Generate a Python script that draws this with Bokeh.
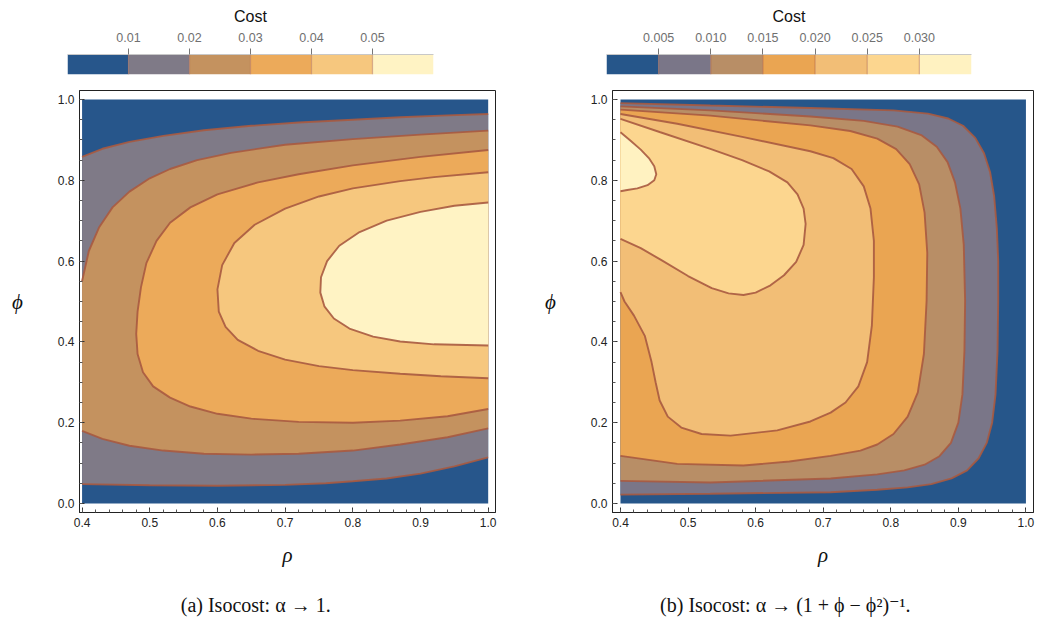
import numpy as np
from bokeh.plotting import figure
from bokeh.layouts import row, column
from bokeh.models import FixedTicker, PrintfTickFormatter
from bokeh.core.properties import value
from bokeh.embed import file_html
from bokeh.resources import INLINE

# ---------------- panel (a): isocost, alpha -> 1 ----------------
A_LEVELS = [0.01, 0.02, 0.03, 0.04, 0.05]
A_COLORS = ["#27568B", "#7F7A87", "#C4925F", "#ECAA5A", "#F6C77E", "#FFF3C4"]

# level 0.01 (two branches, open to the left edge)
A1_TOP_RHO = [1.0, 0.93, 0.87, 0.80, 0.72, 0.65, 0.58, 0.52, 0.47, 0.43, 0.40]
A1_TOP_PHI = [0.964, 0.960, 0.956, 0.950, 0.943, 0.935, 0.924, 0.910, 0.895, 0.878, 0.858]
A1_BOT_RHO = [0.40, 0.50, 0.60, 0.70, 0.76, 0.80, 0.85, 0.90, 0.95, 1.0]
A1_BOT_PHI = [0.048, 0.045, 0.044, 0.046, 0.050, 0.055, 0.062, 0.074, 0.092, 0.114]
# level 0.02
A2_TOP_RHO = [1.0, 0.90, 0.80, 0.70, 0.62, 0.57, 0.53, 0.50, 0.47, 0.445, 0.425, 0.41, 0.40]
A2_TOP_PHI = [0.923, 0.913, 0.902, 0.888, 0.868, 0.850, 0.828, 0.805, 0.772, 0.733, 0.683, 0.625, 0.550]
A2_BOT_RHO = [0.40, 0.43, 0.47, 0.52, 0.58, 0.65, 0.72, 0.80, 0.87, 0.94, 1.0]
A2_BOT_PHI = [0.180, 0.160, 0.143, 0.131, 0.123, 0.121, 0.123, 0.131, 0.146, 0.164, 0.186]
# level 0.03
A3_RHO = [1.0, 0.90, 0.80, 0.72, 0.66, 0.60, 0.56, 0.53, 0.51, 0.495, 0.487, 0.482, 0.480,
          0.482, 0.490, 0.505, 0.53, 0.56, 0.60, 0.65, 0.72, 0.80, 0.87, 0.94, 1.0]
A3_PHI = [0.875, 0.858, 0.837, 0.815, 0.795, 0.765, 0.733, 0.695, 0.650, 0.595, 0.535, 0.475, 0.420,
          0.370, 0.325, 0.290, 0.262, 0.240, 0.222, 0.210, 0.202, 0.200, 0.205, 0.216, 0.234]
# level 0.04
A4_RHO = [1.0, 0.92, 0.87, 0.80, 0.75, 0.70, 0.655, 0.625, 0.607, 0.600, 0.602, 0.612, 0.63,
          0.66, 0.70, 0.75, 0.80, 0.87, 0.93, 1.0]
A4_PHI = [0.820, 0.808, 0.798, 0.780, 0.760, 0.730, 0.690, 0.645, 0.590, 0.530, 0.475, 0.437, 0.405,
          0.378, 0.356, 0.340, 0.330, 0.321, 0.315, 0.310]
# level 0.05
A5_RHO = [1.0, 0.95, 0.90, 0.85, 0.81, 0.78, 0.762, 0.753, 0.752, 0.758, 0.772, 0.795, 0.83,
          0.87, 0.92, 1.0]
A5_PHI = [0.745, 0.737, 0.722, 0.700, 0.672, 0.638, 0.600, 0.560, 0.522, 0.488, 0.458, 0.433, 0.413,
          0.401, 0.394, 0.391]

# ---------------- panel (b): isocost, alpha -> (1+phi-phi^2)^-1 ----------------
B_LEVELS = [0.005, 0.010, 0.015, 0.020, 0.025, 0.030]
B_COLORS = ["#26568A", "#7A7688", "#B88E66", "#EAA552", "#F2BE76", "#FCD68F", "#FFF2C1"]

B1_RHO = [0.40, 0.533, 0.681, 0.804, 0.855, 0.885, 0.907, 0.925, 0.938, 0.947, 0.953, 0.957,
          0.959, 0.959, 0.958, 0.955, 0.950, 0.942, 0.930, 0.913, 0.890, 0.860, 0.825, 0.780,
          0.711, 0.533, 0.40]
B1_PHI = [0.991, 0.985, 0.979, 0.973, 0.965, 0.953, 0.935, 0.905, 0.867, 0.820, 0.760, 0.680,
          0.600, 0.502, 0.378, 0.270, 0.200, 0.150, 0.112, 0.082, 0.062, 0.048, 0.040, 0.034,
          0.028, 0.024, 0.022]
B2_RHO = [0.40, 0.533, 0.681, 0.760, 0.810, 0.845, 0.868, 0.884, 0.895, 0.903, 0.908, 0.910,
          0.909, 0.906, 0.900, 0.889, 0.872, 0.850, 0.820, 0.780, 0.711, 0.533, 0.40]
B2_PHI = [0.983, 0.973, 0.958, 0.947, 0.933, 0.912, 0.883, 0.845, 0.795, 0.730, 0.640, 0.502,
          0.378, 0.270, 0.200, 0.150, 0.117, 0.096, 0.082, 0.072, 0.062, 0.052, 0.056]
B3_RHO = [0.40, 0.533, 0.681, 0.740, 0.780, 0.808, 0.828, 0.842, 0.850, 0.854, 0.853, 0.849,
          0.840, 0.825, 0.804, 0.780, 0.755, 0.711, 0.650, 0.582, 0.484, 0.40]
B3_PHI = [0.975, 0.960, 0.936, 0.922, 0.903, 0.877, 0.840, 0.790, 0.720, 0.620, 0.502, 0.370,
          0.275, 0.215, 0.172, 0.146, 0.131, 0.118, 0.104, 0.094, 0.098, 0.118]
B4_RHO = [0.40, 0.484, 0.582, 0.681, 0.715, 0.742, 0.760, 0.770, 0.775, 0.775, 0.772, 0.765,
          0.752, 0.733, 0.711, 0.681, 0.632, 0.563, 0.520, 0.490, 0.470, 0.458, 0.452, 0.446,
          0.436, 0.420, 0.406, 0.40]
B4_PHI = [0.964, 0.940, 0.907, 0.872, 0.855, 0.828, 0.785, 0.730, 0.650, 0.560, 0.440, 0.350,
          0.290, 0.250, 0.225, 0.203, 0.181, 0.168, 0.172, 0.188, 0.215, 0.255, 0.300, 0.350,
          0.415, 0.465, 0.500, 0.523]
B5_RHO = [0.40, 0.459, 0.533, 0.580, 0.620, 0.647, 0.662, 0.671, 0.674, 0.671, 0.660, 0.642,
          0.622, 0.600, 0.582, 0.560, 0.535, 0.500, 0.460, 0.430, 0.40]
B5_PHI = [0.952, 0.919, 0.878, 0.850, 0.822, 0.795, 0.765, 0.730, 0.692, 0.640, 0.598, 0.565,
          0.540, 0.522, 0.516, 0.520, 0.533, 0.563, 0.603, 0.632, 0.655]
B6_RHO = [0.40, 0.415, 0.430, 0.442, 0.450, 0.453, 0.450, 0.440, 0.425, 0.410, 0.40]
B6_PHI = [0.919, 0.898, 0.876, 0.855, 0.835, 0.815, 0.800, 0.788, 0.780, 0.776, 0.773]

RHO_MIN, RHO_MAX, PHI_MIN, PHI_MAX = 0.4, 1.0, 0.0, 1.0
X_TICKS = [0.4, 0.5, 0.6, 0.7, 0.8, 0.9, 1.0]
Y_TICKS = [0.0, 0.2, 0.4, 0.6, 0.8, 1.0]
CAPTIONS = ["(a) Isocost: α → 1.", "(b) Isocost: α → (1 + ϕ − ϕ²)⁻¹."]

LINE_COLOR = "#A85A40"
COL_W = 522
TICK_FONT = "Liberation Sans, Arial, sans-serif"
SERIF = "Liberation Serif, DejaVu Serif, serif"


def base_fig(**kw):
    p = figure(toolbar_location=None, output_backend="svg", **kw)
    p.frame_align = False
    p.grid.visible = False
    return p


def make_cbar(levels, colors, ml, mr, fmt):
    step = levels[1] - levels[0]
    edges = [levels[0] - step] + list(levels) + [levels[-1] + step]
    p = base_fig(width=COL_W, height=86, x_range=(edges[0], edges[-1]), y_range=(0, 1),
                 x_axis_location="above",
                 min_border_left=ml, min_border_right=mr, min_border_top=53, min_border_bottom=12,
                 title="Cost")
    p.quad(left=edges[:-1], right=edges[1:], bottom=0, top=1, fill_color=colors, line_color=None)
    p.segment(x0=levels, y0=[0] * len(levels), x1=levels, y1=[1] * len(levels),
              line_color=LINE_COLOR, line_alpha=0.45, line_width=1.2)
    p.yaxis.visible = False
    p.outline_line_color = None
    ax = p.xaxis[0]
    ax.ticker = FixedTicker(ticks=list(levels), minor_ticks=[])
    ax.formatter = PrintfTickFormatter(format=fmt)
    ax.major_tick_out = 6
    ax.major_tick_in = 0
    ax.major_tick_line_color = "#777777"
    ax.axis_line_color = "#C8C8C8"
    ax.major_label_standoff = 7
    ax.major_label_text_color = "#707070"
    ax.major_label_text_font = TICK_FONT
    ax.major_label_text_font_size = "12.5px"
    p.title.align = "center"
    p.title.text_font = TICK_FONT
    p.title.text_font_size = "16px"
    p.title.text_font_style = "normal"
    p.title.text_color = "#111111"
    p.title.standoff = 10
    return p


def make_main(xr, ml, mr, colors, polys, lines, ylab_standoff):
    p = base_fig(width=COL_W, height=494, x_range=xr, y_range=(-0.0223, 1.0223),
                 min_border_left=ml, min_border_right=mr, min_border_top=4, min_border_bottom=68)
    p.quad(left=[RHO_MIN], right=[RHO_MAX], bottom=[PHI_MIN], top=[PHI_MAX],
           fill_color=colors[0], line_color=None)
    p.patches(xs=[q[0] for q in polys], ys=[q[1] for q in polys],
              fill_color=colors[1:], line_color=None)
    p.multi_line(xs=[l[0] for l in lines], ys=[l[1] for l in lines],
                 line_color=LINE_COLOR, line_width=1.9, line_alpha=0.9)
    p.outline_line_color = "#222222"
    for ax in (p.xaxis[0], p.yaxis[0]):
        ax.major_tick_in = 5
        ax.major_tick_out = 0
        ax.minor_tick_in = 3
        ax.minor_tick_out = 0
        ax.major_tick_line_color = "#333333"
        ax.minor_tick_line_color = "#555555"
        ax.axis_line_color = "#222222"
        ax.formatter = PrintfTickFormatter(format="%.1f")
        ax.major_label_text_font = TICK_FONT
        ax.major_label_text_font_size = "12px"
        ax.major_label_text_color = "#222222"
        ax.major_label_standoff = 5
        ax.axis_label_text_font = SERIF
        ax.axis_label_text_font_style = "italic"
        ax.axis_label_text_font_size = "21px"
        ax.axis_label_text_color = "#111111"
    p.xaxis[0].ticker = FixedTicker(ticks=X_TICKS, minor_ticks=list(np.round(np.arange(0.4, 1.0001, 0.02), 3)))
    p.yaxis[0].ticker = FixedTicker(ticks=Y_TICKS, minor_ticks=list(np.round(np.arange(0.0, 1.0001, 0.05), 3)))
    p.xaxis[0].axis_label = "ρ"
    p.xaxis[0].axis_label_standoff = 13
    p.yaxis[0].axis_label = "ϕ"
    p.yaxis[0].axis_label_orientation = "horizontal"
    p.yaxis[0].axis_label_standoff = ylab_standoff
    return p


def make_caption(xr, ml, mr, text, cap_x):
    p = base_fig(width=COL_W, height=42, x_range=xr, y_range=(0, 42),
                 min_border_left=ml, min_border_right=mr, min_border_top=0, min_border_bottom=0)
    p.axis.visible = False
    p.outline_line_color = None
    p.text(x=[cap_x], y=[18], text=[text], text_align="center", text_baseline="middle",
           text_font=value(SERIF), text_font_size="20px", text_color="#111111")
    return p


a_polys = [
    (A1_TOP_RHO + A1_BOT_RHO, A1_TOP_PHI + A1_BOT_PHI),
    (A2_TOP_RHO + A2_BOT_RHO, A2_TOP_PHI + A2_BOT_PHI),
    (A3_RHO, A3_PHI), (A4_RHO, A4_PHI), (A5_RHO, A5_PHI),
]
a_lines = [
    (A1_TOP_RHO, A1_TOP_PHI), (A1_BOT_RHO, A1_BOT_PHI),
    (A2_TOP_RHO, A2_TOP_PHI), (A2_BOT_RHO, A2_BOT_PHI),
    (A3_RHO, A3_PHI), (A4_RHO, A4_PHI), (A5_RHO, A5_PHI),
]
b_polys = [(B1_RHO, B1_PHI), (B2_RHO, B2_PHI), (B3_RHO, B3_PHI),
           (B4_RHO, B4_PHI), (B5_RHO, B5_PHI), (B6_RHO, B6_PHI)]
b_lines = b_polys

XR_A = (0.3962, 1.0108)
XR_B = (0.3882, 1.0112)

cbar_a = make_cbar(A_LEVELS, A_COLORS, 67, 89, "%.2f")
cbar_b = make_cbar(B_LEVELS, B_COLORS, 84, 73, "%.3f")
main_a = make_main(XR_A, 79, 27, A_COLORS, a_polys, a_lines, 32)
main_b = make_main(XR_B, 90, 11, B_COLORS, b_polys, b_lines, 32)
cap_a = make_caption(XR_A, 79, 27, CAPTIONS[0], 0.6565)
cap_b = make_caption(XR_B, 90, 11, CAPTIONS[1], 0.644)

layout = row(column(cbar_a, main_a, cap_a, spacing=0),
             column(cbar_b, main_b, cap_b, spacing=0), spacing=0)
open("out.html", "w").write(file_html(layout, INLINE))
